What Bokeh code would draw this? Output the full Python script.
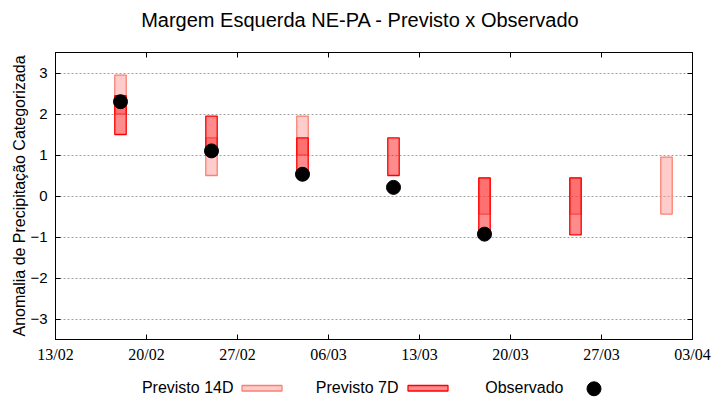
import pandas as pd
from bokeh.plotting import figure
from bokeh.models import (Range1d, FixedTicker, DatetimeTickFormatter, LinearAxis,
                          DatetimeAxis, ColumnDataSource)
from bokeh.layouts import column
from bokeh.core.properties import value
from bokeh.embed import file_html
from bokeh.resources import INLINE

# ---------------- data ----------------
title_text = "Margem Esquerda NE-PA - Previsto x Observado"
y_label = "Anomalia de Precipitação Categorizada"
legend_labels = ["Previsto 14D", "Previsto 7D", "Observado"]

tick_dates = ["2025-02-13", "2025-02-20", "2025-02-27", "2025-03-06",
              "2025-03-13", "2025-03-20", "2025-03-27", "2025-04-03"]
y_ticks = [-3, -2, -1, 0, 1, 2, 3]

dates14 = ["2025-02-18", "2025-02-25", "2025-03-04", "2025-03-18", "2025-03-25", "2025-04-01"]
p14_low = [2.0, 0.5, 1.0, -0.44, -0.44, -0.44]
p14_high = [2.95, 1.42, 1.95, 0.44, 0.44, 0.95]

dates7 = ["2025-02-18", "2025-02-25", "2025-03-04", "2025-03-11", "2025-03-18", "2025-03-25"]
p7_low = [1.5, 1.0, 0.5, 0.5, -0.95, -0.95]
p7_high = [2.45, 1.95, 1.42, 1.42, 0.44, 0.44]

dates_obs = ["2025-02-18", "2025-02-25", "2025-03-04", "2025-03-11", "2025-03-18"]
obs = [2.3, 1.1, 0.53, 0.21, -0.93]

# ---------------- styles ----------------
FONT = "Liberation Sans"
C14_FILL, C14_ALPHA, C14_LINE = "#ff9999", 0.5, "#fa8072"
C7_FILL, C7_ALPHA, C7_LINE = "#ff0000", 0.45, "#ff0000"
DAY = 86400000
BAR_W = 0.88 * DAY

W, H = 720, 400
LEFT, RIGHT = 55, 28          # frame from x=55 to x=692
HEAD_H, MAIN_H, LEG_H = 38, 330, 32

ticks_dt = pd.to_datetime(tick_dates)
ticks_ms = [int(t.value // 10**6) for t in ticks_dt]

src14 = ColumnDataSource(dict(x=pd.to_datetime(dates14), lo=p14_low, hi=p14_high))
src7 = ColumnDataSource(dict(x=pd.to_datetime(dates7), lo=p7_low, hi=p7_high))
srco = ColumnDataSource(dict(x=pd.to_datetime(dates_obs), y=obs))


def blank(height):
    f = figure(width=W, height=height, x_range=Range1d(LEFT, W - RIGHT),
               y_range=Range1d(height, 0), toolbar_location=None, output_backend="svg",
               min_border_left=LEFT, min_border_right=RIGHT,
               min_border_top=0, min_border_bottom=0)
    f.axis.visible = False
    f.grid.visible = False
    f.outline_line_color = None
    return f


# ---------------- header (title) ----------------
header = blank(HEAD_H)
header.text(x=[360], y=[19], text=[title_text], text_align="center",
            text_baseline="middle", text_font=value(FONT), text_font_size="20px",
            text_color="#000000")

# ---------------- main plot ----------------
p = figure(width=W, height=MAIN_H, x_axis_type="datetime",
           x_range=Range1d(ticks_dt[0], ticks_dt[-1]), y_range=Range1d(-3.5, 3.5),
           toolbar_location=None, output_backend="svg",
           min_border_left=LEFT, min_border_right=RIGHT, min_border_top=14, min_border_bottom=29)
p.outline_line_color = "black"
p.outline_line_width = 1
p.xgrid.visible = False
p.ygrid.ticker = FixedTicker(ticks=y_ticks)
p.ygrid.grid_line_color = "#a0a0a0"
p.ygrid.grid_line_dash = "2 2"
p.ygrid.grid_line_width = 1

fmt = DatetimeTickFormatter(days="%d/%m", months="%d/%m", hours="%d/%m", years="%d/%m")
p.xaxis.ticker = FixedTicker(ticks=ticks_ms)
p.xaxis.formatter = fmt
p.yaxis.ticker = FixedTicker(ticks=y_ticks)

for ax in p.xaxis + p.yaxis:
    ax.major_tick_in = 5
    ax.major_tick_out = 0
    ax.minor_tick_line_color = None
    ax.axis_line_color = "black"
    ax.major_tick_line_color = "black"
    ax.major_label_text_color = "#000000"

p.xaxis.major_label_text_font = "Liberation Sans Narrow"
p.xaxis.major_label_text_font_size = "16px"
p.xaxis.major_label_standoff = 6
p.yaxis.major_label_text_font = FONT
p.yaxis.major_label_text_font_size = "15px"
p.yaxis.major_label_standoff = 8
p.yaxis.axis_label = y_label
p.yaxis.axis_label_text_font = FONT
p.yaxis.axis_label_text_font_size = "16px"
p.yaxis.axis_label_text_font_style = "normal"
p.yaxis.axis_label_text_color = "#000000"
p.yaxis.axis_label_standoff = -1

# mirrored inward ticks on the right and top (no labels)
right_ax = LinearAxis(ticker=FixedTicker(ticks=y_ticks), major_tick_in=5, major_tick_out=0,
                      minor_tick_line_color=None, major_label_text_color=None,
                      major_label_text_font_size="1px", major_label_standoff=0)
p.add_layout(right_ax, "right")
top_ax = DatetimeAxis(ticker=FixedTicker(ticks=ticks_ms), major_tick_in=5, major_tick_out=0,
                      minor_tick_line_color=None, major_label_text_color=None,
                      major_label_text_font_size="1px", major_label_standoff=0)
p.add_layout(top_ax, "above")

p.vbar(x="x", width=BAR_W, bottom="lo", top="hi", source=src14,
       fill_color=C14_FILL, fill_alpha=C14_ALPHA, line_color=C14_LINE, line_width=1.3)
p.vbar(x="x", width=BAR_W, bottom="lo", top="hi", source=src7,
       fill_color=C7_FILL, fill_alpha=C7_ALPHA, line_color=C7_LINE, line_width=1.3)
p.scatter(x="x", y="y", source=srco, size=14, marker="circle",
          fill_color="black", line_color="black")

# ---------------- legend ----------------
leg = blank(LEG_H)
leg.text(x=[233, 398, 563], y=[18.5, 18.5, 18.5], text=legend_labels, text_align="right",
         text_baseline="middle", text_font=value(FONT), text_font_size="16px",
         text_color="#000000")
leg.quad(left=[241.5], right=[281.5], top=[17], bottom=[22.5],
         fill_color=C14_FILL, fill_alpha=C14_ALPHA, line_color=C14_LINE, line_width=1.3)
leg.quad(left=[407.5], right=[447.5], top=[17], bottom=[22.5],
         fill_color=C7_FILL, fill_alpha=C7_ALPHA, line_color=C7_LINE, line_width=1.3)
leg.scatter(x=[593.5], y=[20.3], size=14, marker="circle", fill_color="black", line_color="black")

layout = column(header, p, leg, spacing=0)
open("out.html", "w").write(file_html(layout, INLINE))
